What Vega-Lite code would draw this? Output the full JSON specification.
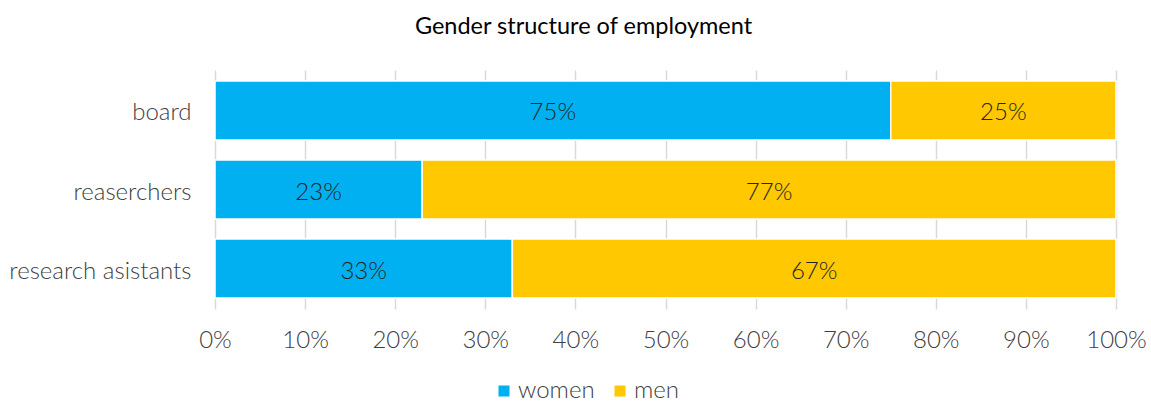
{
  "$schema": "https://vega.github.io/schema/vega-lite/v6.json",
  "autosize": "none",
  "width": 901,
  "height": 239,
  "padding": {"left": 215, "top": 70, "right": 35, "bottom": 94},
  "background": "white",
  "title": {
    "text": "Gender structure of employment",
    "font": "Lato",
    "fontSize": 23.5,
    "fontWeight": 400,
    "color": "#000000",
    "anchor": "middle",
    "dx": -82,
    "baseline": "bottom",
    "offset": 8
  },
  "config": {
    "view": {"stroke": null},
    "font": "Lato",
    "axisX": {
      "title": null,
      "format": ".0%",
      "tickCount": 10,
      "labelOverlap": false,
      "domain": false,
      "ticks": false,
      "grid": true,
      "gridColor": "#d9d9d9",
      "gridWidth": 1.5,
      "labelFont": "Lato",
      "labelFontWeight": 300,
      "labelFontSize": 24,
      "labelColor": "#404040",
      "labelPadding": 19,
      "labelFlush": false
    }
  },
  "data": {
    "values": [
      {"role": "board", "gender": "women", "share": 0.75},
      {"role": "board", "gender": "men", "share": 0.25},
      {"role": "reaserchers", "gender": "women", "share": 0.23},
      {"role": "reaserchers", "gender": "men", "share": 0.77},
      {"role": "research asistants", "gender": "women", "share": 0.33},
      {"role": "research asistants", "gender": "men", "share": 0.67}
    ]
  },
  "transform": [
    {"stack": "share", "groupby": ["role"], "sort": [{"field": "gender", "order": "descending"}], "as": ["x0", "x1"]},
    {"calculate": "(datum.x0 + datum.x1) / 2", "as": "xmid"}
  ],
  "encoding": {
    "y": {
      "field": "role",
      "type": "nominal",
      "sort": ["board", "reaserchers", "research asistants"],
      "scale": {"paddingInner": 0.253, "paddingOuter": 0.139},
      "axis": {
        "title": null,
        "domain": false,
        "ticks": false,
        "labelFont": "Lato",
        "labelFontWeight": 300,
        "labelFontSize": 24,
        "labelColor": "#404040",
        "labelPadding": 24,
        "labelOffset": 3,
        "labelLimit": 400
      }
    }
  },
  "layer": [
    {
      "mark": {"type": "bar", "stroke": "white", "strokeWidth": 1.5},
      "encoding": {
        "x": {
          "field": "x0",
          "type": "quantitative",
          "title": null,
          "scale": {"domain": [0, 1], "nice": false}
        },
        "x2": {"field": "x1"},
        "color": {
          "field": "gender",
          "type": "nominal",
          "scale": {"domain": ["women", "men"], "range": ["#00B0F0", "#FFC800"]},
          "legend": {
            "title": null,
            "orient": "none",
            "direction": "horizontal",
            "legendX": 277,
            "legendY": 309,
            "symbolType": "square",
            "symbolSize": 121,
            "symbolStrokeWidth": 0,
            "labelFont": "Lato",
            "labelFontWeight": 300,
            "labelFontSize": 24,
            "labelColor": "#404040",
            "labelOffset": 2,
            "labelLimit": 300,
            "columnPadding": 13
          }
        }
      }
    },
    {
      "mark": {"type": "text", "font": "Lato", "fontWeight": 300, "fontSize": 24, "color": "#262626", "baseline": "middle", "dy": 3},
      "encoding": {
        "x": {"field": "xmid", "type": "quantitative", "title": null, "scale": {"domain": [0, 1], "nice": false}},
        "text": {"field": "share", "type": "quantitative", "format": ".0%"}
      }
    }
  ]
}
